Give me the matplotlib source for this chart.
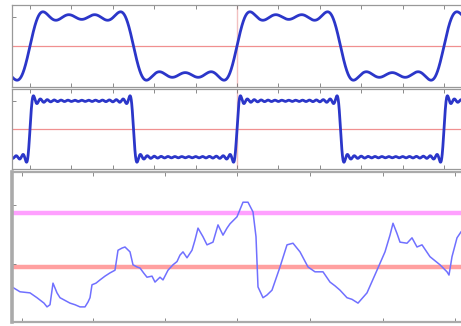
import numpy as np
import matplotlib
matplotlib.use("Agg")
from matplotlib import pyplot as plt

# square-wave partial sums: odd harmonic orders used in each panel
harmonics_top = [1, 3, 5, 7]
harmonics_mid = list(range(1, 30, 2))

# bottom panel: blue trace (sample position, level)
trace_x = [12, 20, 30, 37, 44, 47, 50, 53, 57, 60, 65, 70, 75, 80, 85, 88, 90, 92,
           96, 100, 105, 110, 115, 118, 122, 125, 130, 133, 137, 140, 144, 147, 152,
           155, 160, 163, 168, 173, 177, 180, 183, 187, 192, 195, 198, 203, 207, 213,
           218, 223, 227, 230, 237, 243, 248, 253, 256, 258, 263, 267, 272, 280, 287,
           293, 300, 308, 315, 323, 330, 335, 340, 347, 352, 358, 367, 377, 385, 390,
           393, 397, 400, 407, 412, 417, 422, 430, 436, 440, 447, 449, 452, 457, 461]
trace_y = [-0.37, -0.46, -0.48, -0.57, -0.67, -0.74, -0.70, -0.30, -0.48, -0.57,
           -0.62, -0.67, -0.70, -0.74, -0.74, -0.65, -0.57, -0.33, -0.30, -0.24,
           -0.17, -0.11, -0.06, 0.31, 0.35, 0.37, 0.28, 0.04, 0.00, -0.02, -0.12,
           -0.19, -0.17, -0.28, -0.19, -0.24, -0.06, 0.04, 0.10, 0.22, 0.28, 0.17,
           0.31, 0.50, 0.72, 0.56, 0.41, 0.46, 0.78, 0.59, 0.72, 0.80, 0.93, 1.20,
           1.20, 1.02, 0.56, -0.37, -0.57, -0.52, -0.43, 0.00, 0.41, 0.44, 0.28,
           0.00, -0.09, -0.09, -0.28, -0.35, -0.43, -0.57, -0.60, -0.67, -0.48,
           -0.06, 0.28, 0.59, 0.81, 0.62, 0.46, 0.44, 0.54, 0.37, 0.41, 0.19, 0.10,
           0.04, -0.09, -0.15, 0.19, 0.54, 0.65]
pink_level = 1.0
red_level = 0.0

W, H = 461, 326
fig = plt.figure(figsize=(W / 100, H / 100), dpi=100)

def frac(x0, y0, x1, y1):
    return [x0 / W, 1 - y1 / H, (x1 - x0) / W, (y1 - y0) / H]

t = np.linspace(-0.1, 2.1, 3000)
t_left = (11.5 - 30) / 207
t_right = (463.5 - 30) / 207

for harm, box in [(harmonics_top, frac(11.5, 5, 463.5, 87)),
                  (harmonics_mid, frac(11.5, 89, 463.5, 169))]:
    ax = fig.add_axes(box)
    wave = sum(4 / np.pi * np.sin(2 * np.pi * k * t) / k for k in harm)
    ax.axhline(0, color="#f09090", lw=0.9, zorder=1)
    ax.axvline(1, color="#f2c0c0", lw=1.0, zorder=1)
    ax.plot(t, wave, color="#2b36c9", lw=2.0, zorder=2)
    ax.set_xlim(t_left, t_right)
    ax.set_ylim(-1.42, 1.42)
    ax.set_xticks(np.arange(0, 2.1, 0.2))
    ax.set_yticks([1])
    ax.tick_params(direction="in", length=3, width=0.6, colors="#777777",
                   top=True, labelbottom=False, labelleft=False)
    for s in ax.spines.values():
        s.set_color("#999999")
        s.set_linewidth(0.9)

ax = fig.add_axes(frac(11.5, 172, 463.5, 322))
ax.axhline(pink_level, color="#ffa0ff", lw=3.2, zorder=1)
ax.axhline(red_level, color="#ffa0a0", lw=3.2, zorder=1)
ax.plot(trace_x, trace_y, color="#7070ff", lw=1.1, zorder=2)
ax.set_xlim(11.5, 463.5)
ax.set_ylim(-1.02, 1.76)
ax.set_xticks([22, 93, 165, 237, 310, 383, 455])
ax.set_yticks([0.05, 1.15])
ax.tick_params(direction="in", length=3, width=0.6, colors="#777777",
               top=True, labelbottom=False, labelleft=False)
for s in ax.spines.values():
    s.set_color("#aaaaaa")
    s.set_linewidth(1.6)
ax.spines["left"].set_linewidth(2.6)

fig.savefig("out.png", dpi=100)
